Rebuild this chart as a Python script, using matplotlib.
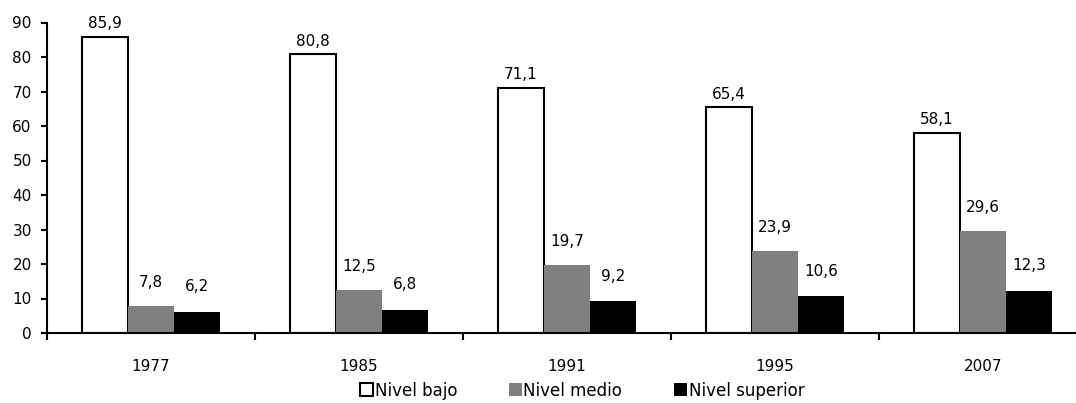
import matplotlib
matplotlib.use("Agg")
import matplotlib.pyplot as plt
import numpy as np
from matplotlib.ticker import FixedLocator, NullFormatter

plt.rcParams['font.family'] = ['DejaVu Sans']

years = ['1977', '1985', '1991', '1995', '2007']
series_names = ['Nivel bajo', 'Nivel medio', 'Nivel superior']
bajo = [85.9, 80.8, 71.1, 65.4, 58.1]
medio = [7.8, 12.5, 19.7, 23.9, 29.6]
superior = [6.2, 6.8, 9.2, 10.6, 12.3]

W, H = 1076, 403
fig = plt.figure(figsize=(W / 100, H / 100), dpi=100)
ax = fig.add_axes([47 / W, (H - 333) / H, 1 - 47 / W, (333 - 22.5) / H])

x = np.arange(len(years))
w = 0.222
styles = [
    dict(facecolor='white', edgecolor='black', linewidth=1.5),
    dict(facecolor='#808080', edgecolor='#808080', linewidth=0),
    dict(facecolor='black', edgecolor='black', linewidth=0),
]
offsets = [-w, 0, w]
label_off = [4, 11.5, 12.5]
for vals, name, st, off, lo in zip([bajo, medio, superior], series_names, styles, offsets, label_off):
    bars = ax.bar(x + off, vals, w, label=name, **st)
    for b, v in zip(bars, vals):
        ax.annotate(f"{v:.1f}".replace('.', ','), (b.get_x() + b.get_width() / 2, v),
                    xytext=(0, lo), textcoords='offset points', ha='center', va='bottom',
                    fontsize=11)

ax.set_ylim(0, 90)
ax.set_yticks(range(0, 91, 10))
ax.set_xlim(-0.5, -0.5 + (W - 47) / 208)
ax.set_xticks(x)
ax.set_xticklabels(years, fontsize=11)
ax.tick_params(axis='x', which='major', length=0, pad=19)
ax.xaxis.set_minor_locator(FixedLocator(np.arange(-0.5, len(years) + 0.5, 1.0)))
ax.xaxis.set_minor_formatter(NullFormatter())
ax.tick_params(axis='x', which='minor', length=5, width=1.5, direction='out')
ax.tick_params(axis='y', length=4, width=1.5, labelsize=11, direction='out', pad=7)
for s in ['top', 'right']:
    ax.spines[s].set_visible(False)
for s in ['left', 'bottom']:
    ax.spines[s].set_linewidth(1.5)

leg = fig.legend(loc='lower center', bbox_to_anchor=(582 / W, -0.012), ncol=3, frameon=False,
                 fontsize=12, handlelength=0.8, handleheight=0.8, handletextpad=0.08,
                 columnspacing=3.1, borderpad=0)

fig.savefig('out.png', dpi=100)
